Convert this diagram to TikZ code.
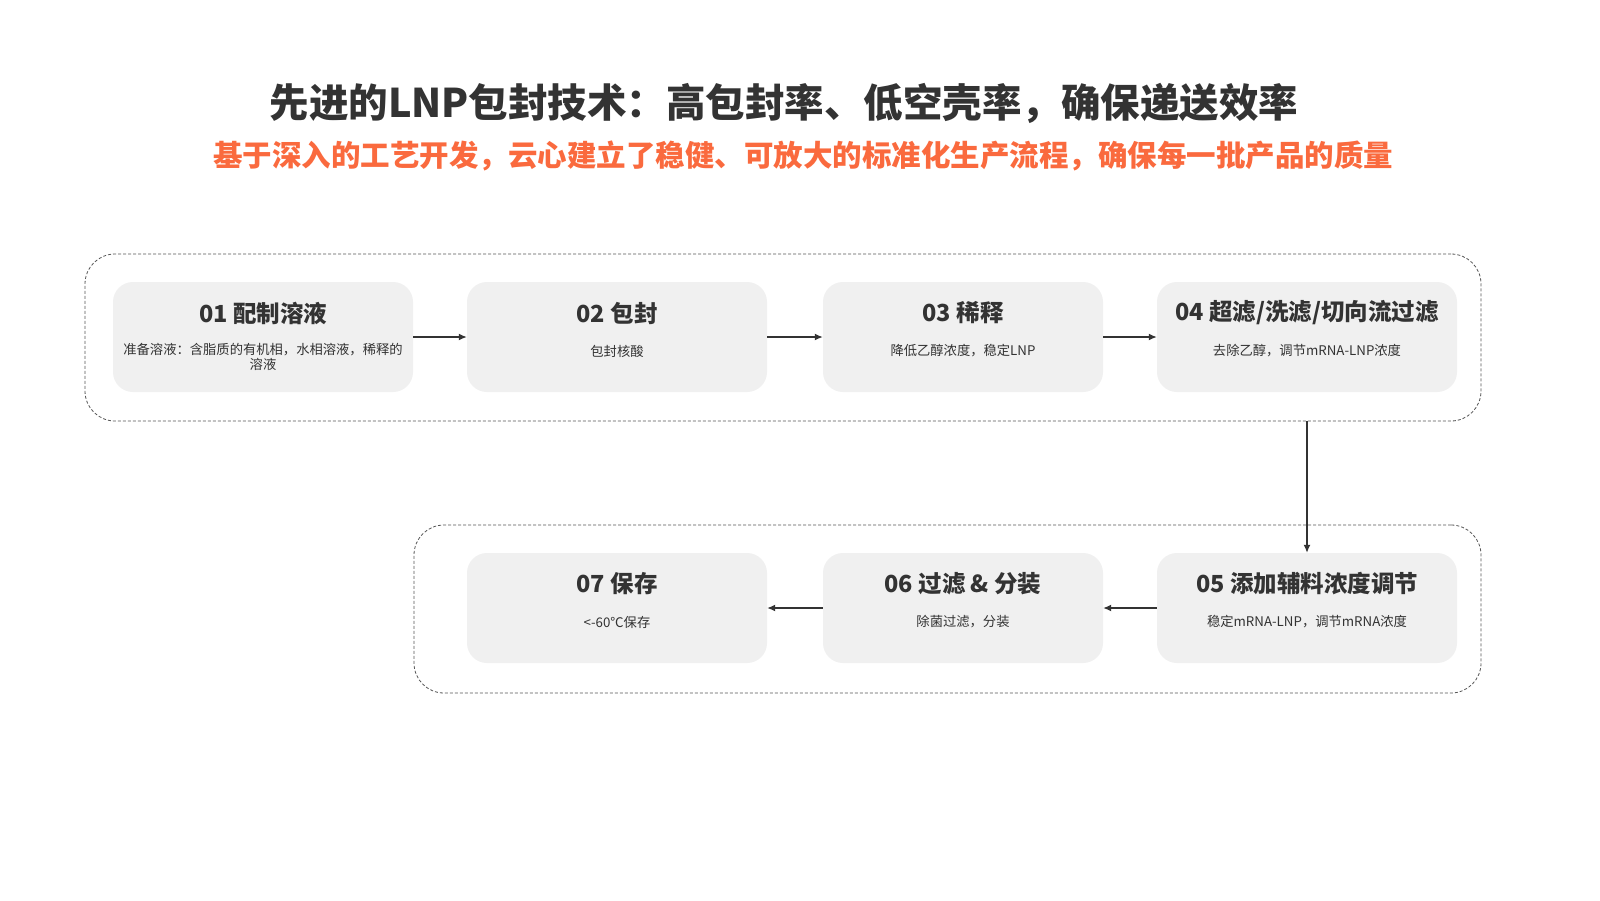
\documentclass[tikz,border=0pt]{standalone}
\usepackage{fontspec}
\setmainfont{Noto Sans CJK SC}
\usetikzlibrary{arrows.meta}
\definecolor{txt}{HTML}{333333}
\definecolor{orng}{HTML}{FA6A3E}
\definecolor{boxfill}{HTML}{F0F0F0}
\definecolor{dashc}{HTML}{555555}
\tikzset{
  stepbox/.style={draw=none,fill=boxfill,rounded corners=20pt,minimum height=110pt,inner sep=0pt},
  groupbox/.style={draw=dashc,dashed,dash pattern=on 3pt off 2pt,line width=0.8pt,rounded corners=30pt,inner sep=0pt},
  ttl/.style={text=txt,font=\fontsize{23.5}{27}\selectfont\bfseries,inner sep=0pt},
  sub/.style={text=txt,font=\fontsize{13.3}{15.5}\selectfont,inner sep=0pt,align=center},
  flow/.style={draw=txt,line width=1.3pt,-{Latex[length=8pt,width=7pt]}}
}
\begin{document}
\begin{tikzpicture}[x=1pt,y=-1pt]
\useasboundingbox (0,0) rectangle (1600,900);
\fill[white] (0,0) rectangle (1600,900);
\node[text=txt,font=\fontsize{39.5}{45}\selectfont\bfseries,inner sep=0pt] (title) at (784,103) {先进的LNP包封技术：高包封率、低空壳率，确保递送效率};
\node[text=orng,font=\fontsize{29.5}{34}\selectfont\bfseries,inner sep=0pt] (subtitle) at (803,156) {基于深入的工艺开发，云心建立了稳健、可放大的标准化生产流程，确保每一批产品的质量};
% groups
\node[groupbox,minimum width=1396pt,minimum height=167pt] (g1) at (783,337.5) {};
\node[groupbox,minimum width=1067pt,minimum height=168pt] (g2) at (947.5,609) {};
% steps
\node[stepbox,minimum width=300pt] (b1) at (263,337) {};
\node[stepbox,minimum width=300pt] (b2) at (617,337) {};
\node[stepbox,minimum width=280pt] (b3) at (963,337) {};
\node[stepbox,minimum width=300pt] (b4) at (1307,337) {};
\node[stepbox,minimum width=300pt] (b5) at (1307,608) {};
\node[stepbox,minimum width=280pt] (b6) at (963,608) {};
\node[stepbox,minimum width=300pt] (b7) at (617,608) {};
% texts
\node[ttl] (t1) at ([yshift=24pt]b1.center) {01 配制溶液};
\node[sub] (s1) at ([yshift=-20pt]b1.center) {准备溶液：含脂质的有机相，水相溶液，稀释的\\溶液};
\node[ttl] (t2) at ([yshift=24pt]b2.center) {02 包封};
\node[sub] (s2) at ([yshift=-14pt]b2.center) {包封核酸};
\node[ttl] (t3) at ([yshift=24pt]b3.center) {03 稀释};
\node[sub] (s3) at ([yshift=-14pt]b3.center) {降低乙醇浓度，稳定LNP};
\node[ttl] (t4) at ([yshift=24pt]b4.center) {04 超滤/洗滤/切向流过滤};
\node[sub] (s4) at ([yshift=-14pt]b4.center) {去除乙醇，调节mRNA-LNP浓度};
\node[ttl] (t5) at ([yshift=24pt]b5.center) {05 添加辅料浓度调节};
\node[sub] (s5) at ([yshift=-14pt]b5.center) {稳定mRNA-LNP，调节mRNA浓度};
\node[ttl] (t6) at ([yshift=24pt]b6.center) {06 过滤 \& 分装};
\node[sub] (s6) at ([yshift=-14pt]b6.center) {除菌过滤，分装};
\node[ttl] (t7) at ([yshift=24pt]b7.center) {07 保存};
\node[sub] (s7) at ([yshift=-14pt]b7.center) {<-60℃保存};
% arrows
\draw[flow] (b1.east) -- (b2.west);
\draw[flow] (b2.east) -- (b3.west);
\draw[flow] (b3.east) -- (b4.west);
\draw[flow] (b4.center |- g1.south) -- (b5.north);
\draw[flow] (b5.west) -- (b6.east);
\draw[flow] (b6.west) -- (b7.east);
\end{tikzpicture}
\end{document}
